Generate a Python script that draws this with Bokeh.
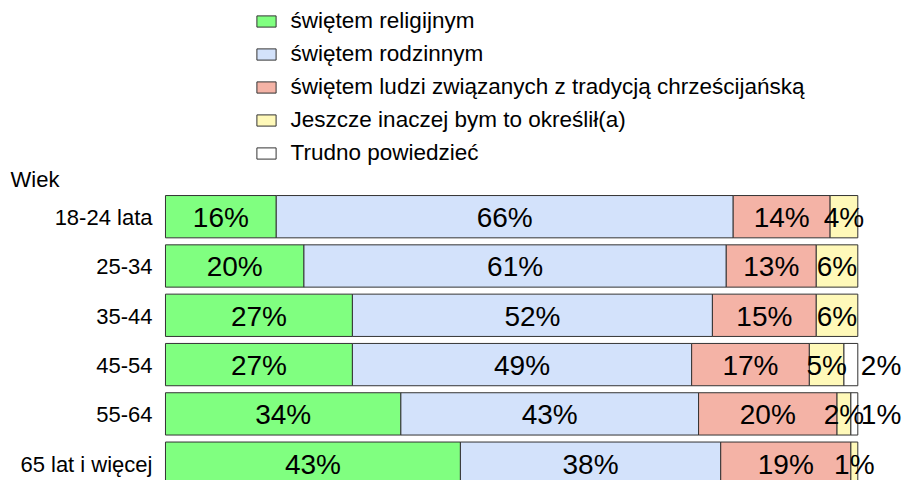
from bokeh.plotting import figure
from bokeh.models import Range1d, Legend, LegendItem, ColumnDataSource
from bokeh.core.properties import value
from bokeh.embed import file_html
from bokeh.resources import INLINE

# ---- data ----
categories = ["18-24 lata", "25-34", "35-44", "45-54", "55-64", "65 lat i więcej"]
religijnym = [16, 20, 27, 27, 34, 42.6]
rodzinnym = [66, 61, 52, 49, 43, 37.6]
chrzescijanska = [14, 13, 15, 17, 20, 18.8]
inaczej = [4, 6, 6, 5, 2, 1.0]
trudno = [0, 0, 0, 2, 1, 0]
series_names = [
    "świętem religijnym",
    "świętem rodzinnym",
    "świętem ludzi związanych z tradycją chrześcijańską",
    "Jeszcze inaczej bym to określił(a)",
    "Trudno powiedzieć",
]
axis_title = "Wiek"

# ---- style ----
colors = ["#80ff80", "#d3e2fb", "#f4b3a6", "#fff9b9", "#ffffff"]
FONT = "Liberation Sans"
W, H = 903, 480
X_START, X_END = -23.83, 106.60
Y_BOTTOM, Y_TOP = 5.351, -4.385

p = figure(width=W, height=H, output_backend="svg", toolbar_location=None,
           x_range=Range1d(X_START, X_END), y_range=Range1d(Y_BOTTOM, Y_TOP),
           x_axis_location=None, y_axis_location=None, min_border=0,
           title=None)
p.outline_line_color = None
p.grid.visible = False
p.background_fill_color = "white"
p.border_fill_color = "white"

series = [religijnym, rodzinnym, chrzescijanska, inaczej, trudno]
ys = list(range(len(categories)))
cum = [0.0] * len(categories)
renderers = []
center_x, center_y, center_t = [], [], []
out_x, out_y, out_t = [], [], []
for j, vals in enumerate(series):
    yy, ll, rr = [], [], []
    for i, v in enumerate(vals):
        if v > 0:
            yy.append(ys[i]); ll.append(cum[i]); rr.append(cum[i] + v)
            lab = f"{round(v)}%"
            if j == len(series) - 1:
                out_x.append(cum[i] + v); out_y.append(ys[i]); out_t.append(lab)
            else:
                center_x.append(cum[i] + v / 2); center_y.append(ys[i]); center_t.append(lab)
            cum[i] += v
    src = ColumnDataSource(dict(y=yy, left=ll, right=rr))
    r = p.hbar(y="y", left="left", right="right", height=0.858, source=src,
               fill_color=colors[j], line_color="#333333", line_width=1)
    renderers.append(r)

p.text(x=center_x, y=center_y, text=center_t, text_font=value(FONT),
       text_font_size="28px", text_align="center", text_baseline="middle",
       text_color="black", y_offset=1)
p.text(x=out_x, y=out_y, text=out_t, text_font=value(FONT),
       text_font_size="28px", text_align="left", text_baseline="middle",
       text_color="black", x_offset=3, y_offset=1)

# category labels
p.text(x=[0] * len(categories), y=ys, text=categories, text_font=value(FONT),
       text_font_size="22px", text_align="right", text_baseline="middle",
       text_color="black", x_offset=-13, y_offset=1)

# axis title
p.text(x=[X_START], y=[-0.75], text=[axis_title], text_font=value(FONT),
       text_font_size="22px", text_align="left", text_baseline="middle",
       text_color="black", x_offset=10)

legend = Legend(items=[LegendItem(label=n, renderers=[r]) for n, r in zip(series_names, renderers)],
                location=(253.6, 314), orientation="vertical",
                glyph_width=24, glyph_height=14, label_standoff=13,
                label_height=26, spacing=7, padding=0, margin=0,
                label_text_font=FONT, label_text_font_size="22.5px",
                label_text_color="black", label_text_baseline="middle",
                background_fill_alpha=0, border_line_color=None)
p.add_layout(legend)

open("out.html", "w").write(file_html(p, INLINE))
